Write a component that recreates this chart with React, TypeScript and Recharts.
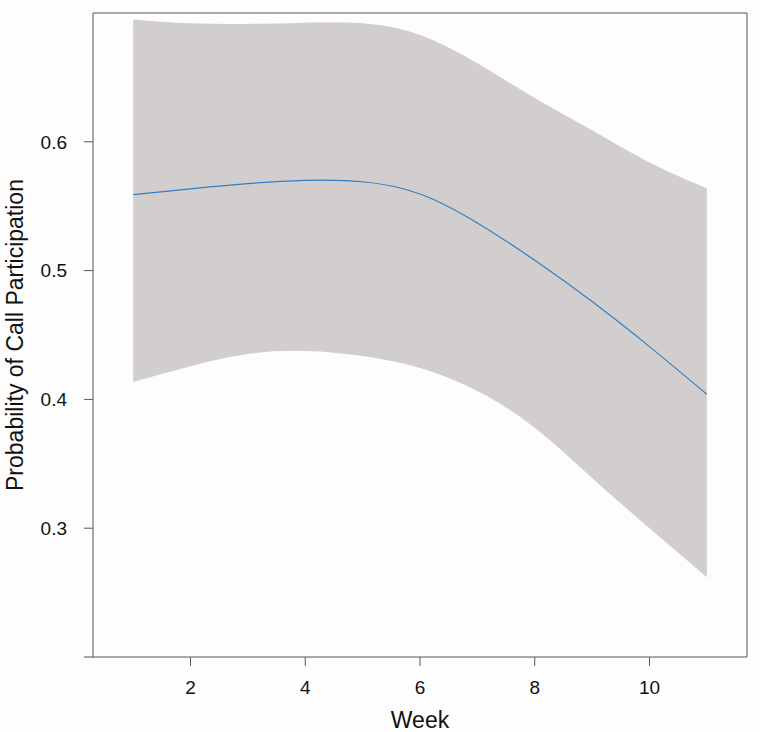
import { ComposedChart, Area, Line, XAxis, YAxis } from 'recharts'

const weeks = [1, 2, 3, 4, 5, 6, 7, 8, 9, 10, 11]
const fit = [0.559, 0.5635, 0.5675, 0.57, 0.569, 0.5595, 0.537, 0.508, 0.476, 0.441, 0.404]
const lower = [0.4135, 0.4258, 0.4353, 0.4376, 0.4337, 0.4244, 0.4065, 0.378, 0.339, 0.3, 0.262]
const upper = [0.695, 0.692, 0.6915, 0.6925, 0.692, 0.683, 0.661, 0.634, 0.609, 0.584, 0.564]

const xTicks = [2, 4, 6, 8, 10]
const yTicks = [0.2, 0.3, 0.4, 0.5, 0.6]

const data = weeks.map((week, i) => ({
  week,
  fit: fit[i],
  band: [lower[i], upper[i]],
}))

const FRAME = '#555'
const FONT = '"Liberation Sans", Arial, sans-serif'

export default function App() {
  return (
    <div style={{ position: 'absolute', left: 0, top: 0, width: 760, height: 732, background: '#fdfdfd' }}>
      <ComposedChart
        width={760}
        height={732}
        data={data}
        margin={{ top: 0, right: 0, bottom: 0, left: 0 }}
        style={{ fontFamily: FONT }}
      >
        <XAxis
          xAxisId="bottom"
          dataKey="week"
          type="number"
          domain={[0.3, 11.7]}
          ticks={xTicks}
          height={75}
          tickSize={9}
          tickMargin={15}
          stroke={FRAME}
          tick={{ fontSize: 19, fill: '#111' }}
          label={{ value: 'Week', position: 'insideBottom', offset: 4, fontSize: 23, fill: '#111' }}
        />
        <XAxis
          xAxisId="top"
          orientation="top"
          dataKey="week"
          type="number"
          domain={[0.3, 11.7]}
          ticks={xTicks}
          height={13}
          tickSize={9}
          stroke={FRAME}
          tick={false}
        />
        <YAxis
          yAxisId="left"
          domain={[0.2, 0.7]}
          ticks={yTicks}
          width={93}
          tickSize={9}
          tickMargin={17}
          stroke={FRAME}
          tick={{ fontSize: 19, fill: '#111' }}
          tickFormatter={(v: number) => (v === 0.2 ? '' : v.toFixed(1))}
          label={{
            value: 'Probability of Call Participation',
            angle: -90,
            position: 'insideLeft',
            offset: 15,
            fontSize: 23,
            fill: '#111',
            style: { textAnchor: 'middle' },
          }}
        />
        <YAxis
          yAxisId="right"
          orientation="right"
          domain={[0.2, 0.7]}
          ticks={yTicks}
          width={13}
          tickSize={9}
          stroke={FRAME}
          tick={false}
        />
        <Area
          xAxisId="bottom"
          yAxisId="left"
          dataKey="band"
          type="natural"
          fill="#d3cece"
          fillOpacity={1}
          stroke="none"
          isAnimationActive={false}
        />
        <Line
          xAxisId="bottom"
          yAxisId="left"
          dataKey="fit"
          type="natural"
          stroke="#2f7fc8"
          strokeWidth={1.2}
          dot={false}
          isAnimationActive={false}
        />
      </ComposedChart>
    </div>
  )
}
